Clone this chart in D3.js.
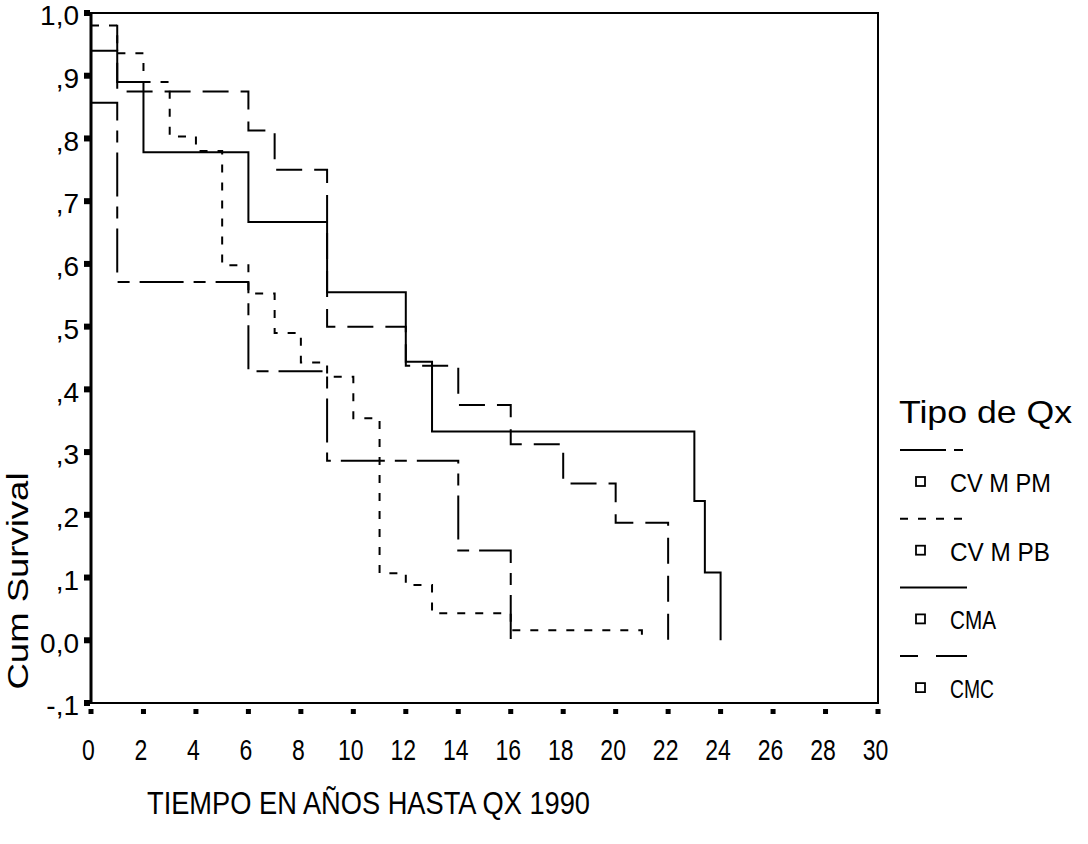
<!DOCTYPE html>
<html>
<head>
<meta charset="utf-8">
<script src="https://cdn.jsdelivr.net/npm/d3@7"></script>
<style>
  body { margin: 0; background: #fff; }
  text { font-family: "Liberation Sans", Arial, sans-serif; fill: #000; }
</style>
</head>
<body>
<div id="container"></div>
<script>
var width = 1088,
    height = 844;

// survival curves (time in years, cumulative survival)
var groupNames = ["CV M PM", "CV M PB", "CMA", "CMC"];
var groupLabelWidth = [101, 100, 46, 44];

var cvmpmTime = [0, 1, 6, 7, 9, 12, 14, 16, 18, 20, 22];
var cvmpmSurv = [1.0, 0.875, 0.8125, 0.75, 0.5, 0.4375, 0.375, 0.3125, 0.25, 0.1875, 0.0];

var cvmpbTime = [0, 1, 2, 3, 4, 5, 6, 7, 8, 9, 10, 11, 12, 13, 16, 21];
var cvmpbSurv = [0.98, 0.936, 0.89, 0.803, 0.78, 0.598, 0.553, 0.49, 0.443, 0.42, 0.354, 0.107, 0.088, 0.043, 0.016, 0.0];

var cmaTime = [0, 1, 2, 6, 9, 12, 13, 23, 23.4, 24];
var cmaSurv = [0.94, 0.89, 0.778, 0.667, 0.555, 0.444, 0.333, 0.222, 0.108, 0.0];

var cmcTime = [0, 1, 6, 9, 14, 16];
var cmcSurv = [0.857, 0.571, 0.429, 0.286, 0.143, 0.0];

var xTicks = d3.range(0, 31, 2);
var yTicks = [-0.1, 0, 0.1, 0.2, 0.3, 0.4, 0.5, 0.6, 0.7, 0.8, 0.9, 1.0];
var yTickLabels = ["-,1", "0,0", ",1", ",2", ",3", ",4", ",5", ",6", ",7", ",8", ",9", "1,0"];

var dashes = ["26,12", "8,10", null, "44,10,12,10"];

var svg = d3.select("#container").append("svg")
    .attr("width", width)
    .attr("height", height);

var x = d3.scaleLinear().domain([0, 30]).range([91, 878]);
var y = d3.scaleLinear().domain([-0.1, 1.0]).range([703, 13]);

// frame
svg.append("rect")
    .attr("x", x(0)).attr("y", y(1.0))
    .attr("width", x(30) - x(0)).attr("height", y(-0.1) - y(1.0))
    .attr("fill", "none").attr("stroke", "#000").attr("stroke-width", 2);
svg.append("line")
    .attr("x1", x(0)).attr("x2", x(0)).attr("y1", y(1.0)).attr("y2", y(-0.1))
    .attr("stroke", "#000").attr("stroke-width", 3);

// y axis
var yAxis = svg.append("g")
    .attr("transform", "translate(" + x(0) + ",0)")
    .call(d3.axisLeft(y).tickValues(yTicks).tickSize(0).tickPadding(12)
        .tickFormat((d, i) => yTickLabels[i]));
yAxis.select(".domain").remove();
yAxis.selectAll("text").attr("font-size", 28).attr("dy", "0.42em");
svg.selectAll(".ysq").data(yTicks).enter().append("rect")
    .attr("x", x(0) - 7).attr("y", d => y(d) - 3)
    .attr("width", 6).attr("height", 6).attr("fill", "#000");

// x axis
var xAxis = svg.append("g")
    .attr("transform", "translate(0," + y(-0.1) + ")")
    .call(d3.axisBottom(x).tickValues(xTicks).tickSize(0).tickPadding(36));
xAxis.select(".domain").remove();
xAxis.selectAll("text")
    .attr("font-size", 29)
    .attr("dy", "0.71em")
    .attr("dx", -3)
    .attr("textLength", d => String(d).length * 12.8)
    .attr("lengthAdjust", "spacingAndGlyphs");
svg.selectAll(".xsq").data(xTicks).enter().append("rect")
    .attr("x", d => x(d) - 2.5).attr("y", y(-0.1) + 6)
    .attr("width", 5).attr("height", 5).attr("fill", "#000");

// curves
var curves = [
    [cvmpmTime, cvmpmSurv],
    [cvmpbTime, cvmpbSurv],
    [cmaTime, cmaSurv],
    [cmcTime, cmcSurv]
];
var line = d3.line()
    .x(d => x(d[0]))
    .y(d => y(d[1]))
    .curve(d3.curveStepAfter);

curves.forEach((c, i) => {
    var pts = c[0].map((t, j) => [t, c[1][j]]);
    svg.append("path")
        .datum(pts)
        .attr("d", line)
        .attr("fill", "none")
        .attr("stroke", "#000")
        .attr("stroke-width", 2)
        .attr("stroke-dasharray", dashes[i]);
});

// axis titles
svg.append("text")
    .attr("x", 147).attr("y", 814)
    .attr("font-size", 32)
    .attr("textLength", 443).attr("lengthAdjust", "spacingAndGlyphs")
    .text("TIEMPO EN AÑOS HASTA QX 1990");

svg.append("text")
    .attr("transform", "translate(28,581) rotate(-90)")
    .attr("text-anchor", "middle")
    .attr("font-size", 29)
    .attr("textLength", 217).attr("lengthAdjust", "spacingAndGlyphs")
    .text("Cum Survival");

// legend
svg.append("text")
    .attr("x", 899).attr("y", 423)
    .attr("font-size", 32)
    .attr("textLength", 173).attr("lengthAdjust", "spacingAndGlyphs")
    .text("Tipo de Qx");

var leg = svg.selectAll(".leg").data(groupNames).enter().append("g")
    .attr("transform", (d, i) => "translate(0," + (i * 68.7) + ")");
leg.append("line")
    .attr("x1", 900).attr("x2", 967).attr("y1", 450).attr("y2", 450)
    .attr("stroke", "#000").attr("stroke-width", 2)
    .attr("stroke-dasharray", (d, i) => i == 0 ? "46,8,9,20" : (i == 3 ? "18,18,30,0" : dashes[i]));
leg.append("rect")
    .attr("x", 916).attr("y", 477).attr("width", 9).attr("height", 9)
    .attr("fill", "none").attr("stroke", "#000").attr("stroke-width", 1.8);
leg.append("text")
    .attr("x", 950).attr("y", 492)
    .attr("font-size", 25)
    .attr("textLength", (d, i) => groupLabelWidth[i])
    .attr("lengthAdjust", "spacingAndGlyphs")
    .text(d => d);
</script>
</body>
</html>
